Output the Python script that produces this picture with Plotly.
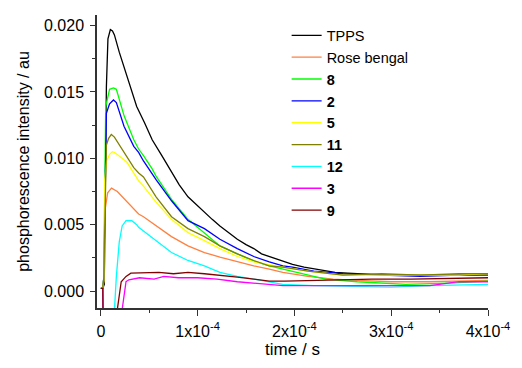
import plotly.graph_objects as go

# time in units of 1e-4 s, intensity in au
t_tpps = [0, 0.02, 0.035, 0.045, 0.057, 0.073, 0.098, 0.12, 0.14, 0.19, 0.27, 0.37, 0.45, 0.53, 0.63, 0.73, 0.81, 0.90, 1.0, 1.07, 1.15, 1.23, 1.32, 1.41, 1.50, 1.58, 1.66, 1.74, 1.81, 1.88, 1.98, 2.10, 2.21, 2.32, 2.42, 2.55, 2.65, 2.80, 3.0, 3.2, 3.4, 3.6, 3.8, 4.0]
y_tpps = [0.0002, 0.0002, 0.0005, 0.0090, 0.0154, 0.0190, 0.0197, 0.0196, 0.0193, 0.0180, 0.0162, 0.0139, 0.0127, 0.0114, 0.0102, 0.0090, 0.0080, 0.0071, 0.0064, 0.0059, 0.0054, 0.0049, 0.0044, 0.0039, 0.0035, 0.0032, 0.0028, 0.0026, 0.0024, 0.0022, 0.0020, 0.0018, 0.00165, 0.0015, 0.0014, 0.00135, 0.0013, 0.00125, 0.0012, 0.0012, 0.00115, 0.0012, 0.0012, 0.0013]

t_rb = [0, 0.02, 0.035, 0.045, 0.07, 0.11, 0.17, 0.27, 0.39, 0.44, 0.57, 0.73, 0.90, 1.07, 1.23, 1.41, 1.58, 1.74, 1.88, 2.14, 2.40, 2.65, 3.0, 3.4, 3.8, 4.0]
y_rb = [0.0002, 0.0002, 0.0010, 0.0062, 0.0074, 0.00775, 0.0075, 0.0067, 0.0058, 0.0056, 0.0049, 0.0041, 0.0034, 0.0029, 0.00256, 0.0022, 0.0019, 0.00165, 0.0014, 0.0011, 0.0009, 0.0008, 0.0007, 0.0007, 0.0008, 0.0008]

t_8 = [0, 0.02, 0.03, 0.05, 0.09, 0.13, 0.16, 0.24, 0.34, 0.39, 0.44, 0.53, 0.57, 0.73, 0.90, 1.07, 1.23, 1.41, 1.58, 1.74, 1.88, 2.01, 2.32, 2.65, 3.15, 3.6, 4.0]
y_8 = [0.0002, 0.0002, 0.0010, 0.0139, 0.0152, 0.0153, 0.0152, 0.0132, 0.0114, 0.0107, 0.0102, 0.0092, 0.00865, 0.0069, 0.0054, 0.0044, 0.0034, 0.0028, 0.00226, 0.0019, 0.00165, 0.0014, 0.0009, 0.0007, 0.0005, 0.0006, 0.00075]

t_2 = [0, 0.02, 0.03, 0.057, 0.09, 0.13, 0.16, 0.24, 0.34, 0.39, 0.44, 0.57, 0.73, 0.90, 1.07, 1.23, 1.41, 1.58, 1.74, 1.88, 1.98, 2.2, 2.5, 2.9, 3.3, 3.7, 4.0]
y_2 = [0.0002, 0.0002, 0.0010, 0.0134, 0.0141, 0.0144, 0.0142, 0.0124, 0.0109, 0.01045, 0.0098, 0.0084, 0.0068, 0.0053, 0.0047, 0.0039, 0.0032, 0.0026, 0.0022, 0.0019, 0.0018, 0.0015, 0.0013, 0.0012, 0.0011, 0.0012, 0.0012]

t_5 = [0, 0.02, 0.03, 0.04, 0.06, 0.09, 0.12, 0.15, 0.27, 0.39, 0.44, 0.57, 0.73, 0.90, 1.07, 1.23, 1.41, 1.58, 1.88, 2.14, 2.5, 2.9, 3.3, 3.7, 4.0]
y_5 = [0.0002, 0.0002, 0.0008, 0.0084, 0.0098, 0.0103, 0.0105, 0.0104, 0.0097, 0.0083, 0.0079, 0.0067, 0.0054, 0.0044, 0.0038, 0.0032, 0.0026, 0.0022, 0.0018, 0.0015, 0.0012, 0.0012, 0.00125, 0.0012, 0.0013]

t_11 = [0, 0.02, 0.03, 0.057, 0.08, 0.108, 0.14, 0.24, 0.34, 0.39, 0.44, 0.57, 0.73, 0.90, 1.07, 1.23, 1.41, 1.58, 1.74, 1.88, 2.14, 2.5, 2.9, 3.3, 3.7, 4.0]
y_11 = [0.0002, 0.0002, 0.0010, 0.0110, 0.0115, 0.0118, 0.0116, 0.01045, 0.0093, 0.0089, 0.0086, 0.0071, 0.0056, 0.0047, 0.0041, 0.0034, 0.0028, 0.0023, 0.0019, 0.0018, 0.0015, 0.0012, 0.0013, 0.0012, 0.0013, 0.0013]

t_12 = [0, 0.02, 0.025, 0.12, 0.16, 0.19, 0.22, 0.26, 0.32, 0.37, 0.39, 0.57, 0.73, 0.90, 1.07, 1.23, 1.41, 1.58, 1.74, 1.88, 2.2, 2.6, 3.0, 3.4, 3.8, 4.0]
y_12 = [0.0002, 0.0002, -0.004, -0.004, 0.0011, 0.0037, 0.0049, 0.0053, 0.0053, 0.0050, 0.0048, 0.0038, 0.0029, 0.0023, 0.0019, 0.0014, 0.0011, 0.0009, 0.0007, 0.0005, 0.0004, 0.00035, 0.0003, 0.0004, 0.00045, 0.0005]

t_3 = [0, 0.02, 0.025, 0.17, 0.26, 0.29, 0.40, 0.55, 0.65, 0.80, 1.0, 1.2, 1.41, 1.6, 1.88, 2.2, 2.6, 3.0, 3.4, 3.7, 4.0]
y_3 = [0.0002, 0.0002, -0.004, -0.004, 0.0007, 0.00085, 0.0010, 0.0009, 0.0011, 0.0010, 0.0010, 0.0009, 0.0007, 0.0006, 0.0004, 0.0004, 0.0004, 0.0004, 0.0004, 0.0007, 0.0007]

t_9 = [0, 0.02, 0.025, 0.12, 0.21, 0.26, 0.31, 0.45, 0.60, 0.75, 0.90, 1.07, 1.23, 1.41, 1.58, 1.74, 1.9, 2.2, 2.5, 2.8, 3.2, 3.6, 4.0]
y_9 = [0.0002, 0.0002, -0.004, -0.004, 0.0007, 0.0011, 0.00135, 0.0014, 0.0014, 0.0013, 0.0014, 0.0013, 0.0012, 0.00105, 0.0009, 0.00075, 0.00075, 0.0008, 0.0008, 0.0009, 0.0009, 0.00095, 0.0010]

series = [
    ("TPPS", t_tpps, y_tpps, "#000000"),
    ("Rose bengal", t_rb, y_rb, "#FF8040"),
    ("<b>8</b>", t_8, y_8, "#00FF00"),
    ("<b>2</b>", t_2, y_2, "#0000FF"),
    ("<b>5</b>", t_5, y_5, "#FFFF00"),
    ("<b>11</b>", t_11, y_11, "#808000"),
    ("<b>12</b>", t_12, y_12, "#00FFFF"),
    ("<b>3</b>", t_3, y_3, "#FF00FF"),
    ("<b>9</b>", t_9, y_9, "#800000"),
]

x_tickvals = [0, 1e-4, 2e-4, 3e-4, 4e-4]
x_ticktext = ["0", "1x10<sup>-4</sup>", "2x10<sup>-4</sup>", "3x10<sup>-4</sup>", "4x10<sup>-4</sup>"]
y_tickvals = [0.0, 0.005, 0.010, 0.015, 0.020]
y_ticktext = ["0.000", "0.005", "0.010", "0.015", "0.020"]

fig = go.Figure()
for name, t, y, c in series:
    fig.add_trace(go.Scatter(x=[v * 1e-4 for v in t], y=y, mode="lines", name=name,
                             legendgroup=name, line=dict(color=c, width=1.3)))

font = "Liberation Sans, Arial, sans-serif"
fig.update_layout(
    width=522, height=368,
    margin=dict(l=97, r=25, t=15, b=59),
    plot_bgcolor="white", paper_bgcolor="white",
    font=dict(family=font, size=16, color="#000000"),
    showlegend=True,
    legend=dict(x=0.485, y=0.985, xanchor="left", yanchor="top", bgcolor="rgba(0,0,0,0)",
                font=dict(size=14.5), tracegroupgap=0, itemwidth=30),
    xaxis=dict(range=[-4e-6, 4e-4], tickvals=x_tickvals, ticktext=x_ticktext,
               showgrid=False, zeroline=False, showline=True, linecolor="#333333", linewidth=1.5,
               ticks="outside", ticklen=6, tickwidth=1.2, tickcolor="#333333",
               tickfont=dict(size=16), ticklabelstandoff=2,
               minor=dict(ticks="outside", ticklen=3, dtick=0.5e-4, tick0=0, tickcolor="#333333", tickwidth=1.2),
               title=dict(text="time / s", standoff=4, font=dict(size=17))),
    yaxis=dict(range=[-0.00128, 0.0208], tickvals=y_tickvals, ticktext=y_ticktext,
               showgrid=False, zeroline=False, showline=True, linecolor="#333333", linewidth=1.5,
               ticks="outside", ticklen=5, tickwidth=1.2, tickcolor="#333333",
               tickfont=dict(size=16), ticklabelstandoff=3,
               minor=dict(ticks="outside", ticklen=3, dtick=0.0025, tick0=0, tickcolor="#333333", tickwidth=1.2),
               title=dict(text="phosphorescence intensity / au", standoff=10, font=dict(size=16))),
)

fig.write_html("out.html")
